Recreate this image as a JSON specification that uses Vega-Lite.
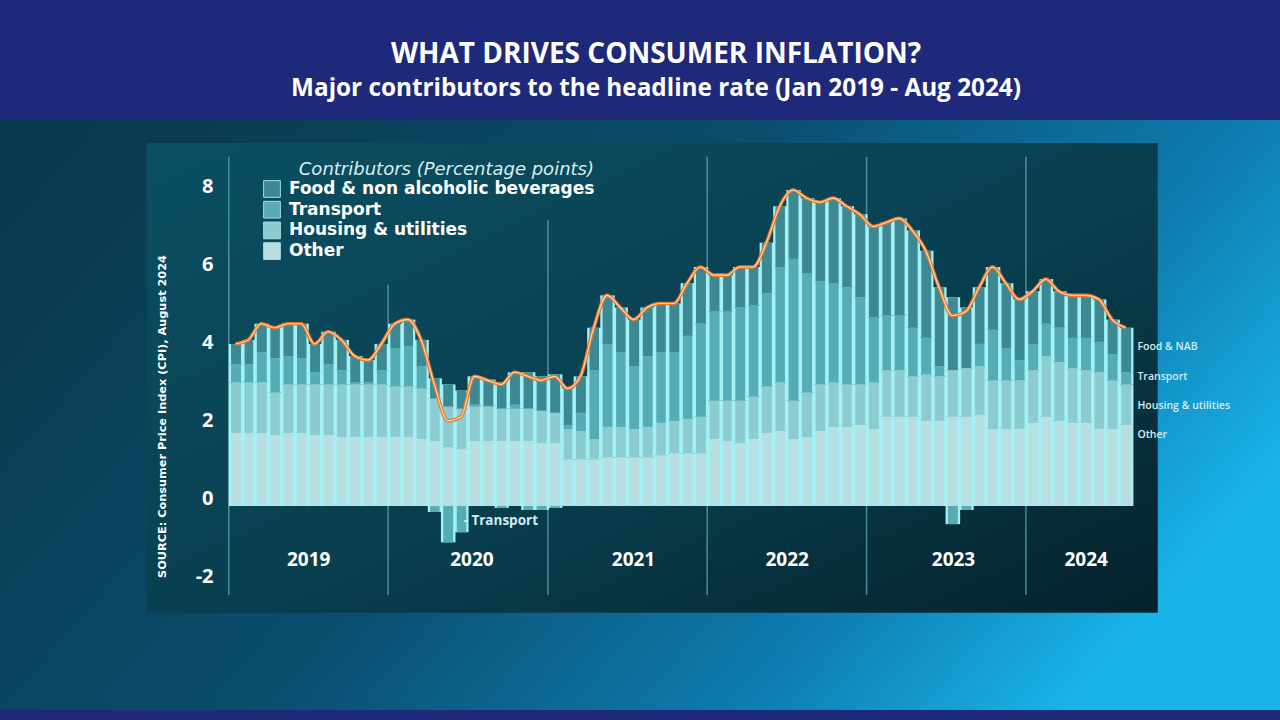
{
  "$schema": "https://vega.github.io/schema/vega-lite/v6.json",
  "width": 1280,
  "height": 590,
  "autosize": {"type": "none"},
  "padding": {"left": 0, "top": 120, "right": 0, "bottom": 10},
  "background": "#1f2979",
  "config": {
    "font": "Open Sans",
    "view": {
      "stroke": null,
      "fill": {"gradient": "linear", "x1": 0, "y1": 0.2, "x2": 1, "y2": 0.6,
        "stops": [{"offset": 0, "color": "#0a3a4e"}, {"offset": 0.45, "color": "#0b4d6d"}, {"offset": 0.78, "color": "#0e7db0"}, {"offset": 1, "color": "#19b5ea"}]}
    }
  },
  "title": {
    "text": "WHAT DRIVES CONSUMER INFLATION?",
    "subtitle": "Major contributors to the headline rate (Jan 2019 - Aug 2024)",
    "anchor": "middle",
    "dx": 16,
    "offset": 19,
    "font": "Open Sans",
    "fontSize": 28,
    "fontWeight": "bold",
    "color": "#ffffff",
    "subtitleFont": "Open Sans",
    "subtitleFontSize": 24.3,
    "subtitleFontWeight": "bold",
    "subtitleColor": "#ffffff",
    "subtitlePadding": 8
  },
  "data": {"values": [
    {"m": "2019-01-01", "food": 0.5, "transport": 0.45, "housing": 1.25, "other": 1.8, "cpi": 4.0},
    {"m": "2019-02-01", "food": 0.6, "transport": 0.45, "housing": 1.25, "other": 1.8, "cpi": 4.1},
    {"m": "2019-03-01", "food": 0.7, "transport": 0.75, "housing": 1.25, "other": 1.8, "cpi": 4.5},
    {"m": "2019-04-01", "food": 0.75, "transport": 0.85, "housing": 1.05, "other": 1.75, "cpi": 4.4},
    {"m": "2019-05-01", "food": 0.8, "transport": 0.7, "housing": 1.2, "other": 1.8, "cpi": 4.5},
    {"m": "2019-06-01", "food": 0.85, "transport": 0.65, "housing": 1.2, "other": 1.8, "cpi": 4.5},
    {"m": "2019-07-01", "food": 0.7, "transport": 0.3, "housing": 1.25, "other": 1.75, "cpi": 4.0},
    {"m": "2019-08-01", "food": 0.8, "transport": 0.5, "housing": 1.25, "other": 1.75, "cpi": 4.3},
    {"m": "2019-09-01", "food": 0.75, "transport": 0.35, "housing": 1.3, "other": 1.7, "cpi": 4.1},
    {"m": "2019-10-01", "food": 0.65, "transport": 0.05, "housing": 1.3, "other": 1.7, "cpi": 3.7},
    {"m": "2019-11-01", "food": 0.55, "transport": 0.05, "housing": 1.3, "other": 1.7, "cpi": 3.6},
    {"m": "2019-12-01", "food": 0.65, "transport": 0.35, "housing": 1.3, "other": 1.7, "cpi": 4.0},
    {"m": "2020-01-01", "food": 0.6, "transport": 0.95, "housing": 1.25, "other": 1.7, "cpi": 4.5},
    {"m": "2020-02-01", "food": 0.65, "transport": 1.0, "housing": 1.25, "other": 1.7, "cpi": 4.6},
    {"m": "2020-03-01", "food": 0.65, "transport": 0.55, "housing": 1.25, "other": 1.65, "cpi": 4.1},
    {"m": "2020-04-01", "food": 0.5, "transport": -0.15, "housing": 1.05, "other": 1.6, "cpi": 3.0},
    {"m": "2020-05-01", "food": 0.55, "transport": -0.9, "housing": 1.0, "other": 1.45, "cpi": 2.1},
    {"m": "2020-06-01", "food": 0.45, "transport": -0.65, "housing": 1.0, "other": 1.4, "cpi": 2.2},
    {"m": "2020-07-01", "food": 0.7, "transport": 0.05, "housing": 0.85, "other": 1.6, "cpi": 3.2},
    {"m": "2020-08-01", "food": 0.65, "transport": 0.02, "housing": 0.85, "other": 1.6, "cpi": 3.1},
    {"m": "2020-09-01", "food": 0.65, "transport": -0.05, "housing": 0.8, "other": 1.6, "cpi": 3.0},
    {"m": "2020-10-01", "food": 0.8, "transport": 0.1, "housing": 0.8, "other": 1.6, "cpi": 3.3},
    {"m": "2020-11-01", "food": 0.9, "transport": -0.1, "housing": 0.8, "other": 1.6, "cpi": 3.2},
    {"m": "2020-12-01", "food": 0.85, "transport": -0.1, "housing": 0.8, "other": 1.55, "cpi": 3.1},
    {"m": "2021-01-01", "food": 0.95, "transport": -0.05, "housing": 0.75, "other": 1.55, "cpi": 3.2},
    {"m": "2021-02-01", "food": 0.9, "transport": 0.1, "housing": 0.75, "other": 1.15, "cpi": 2.9},
    {"m": "2021-03-01", "food": 0.9, "transport": 0.45, "housing": 0.7, "other": 1.15, "cpi": 3.2},
    {"m": "2021-04-01", "food": 1.05, "transport": 1.7, "housing": 0.5, "other": 1.15, "cpi": 4.4},
    {"m": "2021-05-01", "food": 1.2, "transport": 2.05, "housing": 0.75, "other": 1.2, "cpi": 5.2},
    {"m": "2021-06-01", "food": 1.1, "transport": 1.85, "housing": 0.75, "other": 1.2, "cpi": 4.9},
    {"m": "2021-07-01", "food": 1.15, "transport": 1.55, "housing": 0.7, "other": 1.2, "cpi": 4.6},
    {"m": "2021-08-01", "food": 1.2, "transport": 1.75, "housing": 0.75, "other": 1.2, "cpi": 4.9},
    {"m": "2021-09-01", "food": 1.2, "transport": 1.75, "housing": 0.8, "other": 1.25, "cpi": 5.0},
    {"m": "2021-10-01", "food": 1.2, "transport": 1.7, "housing": 0.8, "other": 1.3, "cpi": 5.0},
    {"m": "2021-11-01", "food": 1.3, "transport": 2.05, "housing": 0.85, "other": 1.3, "cpi": 5.5},
    {"m": "2021-12-01", "food": 1.4, "transport": 2.3, "housing": 0.9, "other": 1.3, "cpi": 5.9},
    {"m": "2022-01-01", "food": 0.9, "transport": 2.2, "housing": 0.95, "other": 1.65, "cpi": 5.7},
    {"m": "2022-02-01", "food": 0.9, "transport": 2.2, "housing": 1.0, "other": 1.6, "cpi": 5.7},
    {"m": "2022-03-01", "food": 1.0, "transport": 2.3, "housing": 1.05, "other": 1.55, "cpi": 5.9},
    {"m": "2022-04-01", "food": 0.95, "transport": 2.25, "housing": 1.05, "other": 1.65, "cpi": 5.9},
    {"m": "2022-05-01", "food": 1.25, "transport": 2.3, "housing": 1.15, "other": 1.8, "cpi": 6.5},
    {"m": "2022-06-01", "food": 1.5, "transport": 2.85, "housing": 1.2, "other": 1.85, "cpi": 7.4},
    {"m": "2022-07-01", "food": 1.7, "transport": 3.5, "housing": 0.95, "other": 1.65, "cpi": 7.8},
    {"m": "2022-08-01", "food": 1.85, "transport": 2.95, "housing": 1.1, "other": 1.7, "cpi": 7.6},
    {"m": "2022-09-01", "food": 1.95, "transport": 2.55, "housing": 1.15, "other": 1.85, "cpi": 7.5},
    {"m": "2022-10-01", "food": 2.1, "transport": 2.45, "housing": 1.1, "other": 1.95, "cpi": 7.6},
    {"m": "2022-11-01", "food": 2.0, "transport": 2.4, "housing": 1.05, "other": 1.95, "cpi": 7.4},
    {"m": "2022-12-01", "food": 2.05, "transport": 2.15, "housing": 1.0, "other": 2.0, "cpi": 7.2},
    {"m": "2023-01-01", "food": 2.25, "transport": 1.6, "housing": 1.15, "other": 1.9, "cpi": 6.9},
    {"m": "2023-02-01", "food": 2.3, "transport": 1.35, "housing": 1.15, "other": 2.2, "cpi": 7.0},
    {"m": "2023-03-01", "food": 2.4, "transport": 1.35, "housing": 1.15, "other": 2.2, "cpi": 7.1},
    {"m": "2023-04-01", "food": 2.4, "transport": 1.2, "housing": 1.0, "other": 2.2, "cpi": 6.8},
    {"m": "2023-05-01", "food": 2.15, "transport": 0.9, "housing": 1.15, "other": 2.1, "cpi": 6.3},
    {"m": "2023-06-01", "food": 1.95, "transport": 0.25, "housing": 1.1, "other": 2.1, "cpi": 5.4},
    {"m": "2023-07-01", "food": 1.8, "transport": -0.45, "housing": 1.15, "other": 2.2, "cpi": 4.7},
    {"m": "2023-08-01", "food": 1.5, "transport": -0.1, "housing": 1.2, "other": 2.2, "cpi": 4.8},
    {"m": "2023-09-01", "food": 1.4, "transport": 0.55, "housing": 1.2, "other": 2.25, "cpi": 5.4},
    {"m": "2023-10-01", "food": 1.55, "transport": 1.25, "housing": 1.2, "other": 1.9, "cpi": 5.9},
    {"m": "2023-11-01", "food": 1.6, "transport": 0.8, "housing": 1.2, "other": 1.9, "cpi": 5.5},
    {"m": "2023-12-01", "food": 1.5, "transport": 0.5, "housing": 1.2, "other": 1.9, "cpi": 5.1},
    {"m": "2024-01-01", "food": 1.3, "transport": 0.65, "housing": 1.3, "other": 2.05, "cpi": 5.3},
    {"m": "2024-02-01", "food": 1.1, "transport": 0.8, "housing": 1.5, "other": 2.2, "cpi": 5.6},
    {"m": "2024-03-01", "food": 0.9, "transport": 0.85, "housing": 1.45, "other": 2.1, "cpi": 5.3},
    {"m": "2024-04-01", "food": 1.05, "transport": 0.75, "housing": 1.35, "other": 2.05, "cpi": 5.2},
    {"m": "2024-05-01", "food": 1.05, "transport": 0.8, "housing": 1.3, "other": 2.05, "cpi": 5.2},
    {"m": "2024-06-01", "food": 1.05, "transport": 0.75, "housing": 1.4, "other": 1.9, "cpi": 5.1},
    {"m": "2024-07-01", "food": 0.85, "transport": 0.65, "housing": 1.2, "other": 1.9, "cpi": 4.6},
    {"m": "2024-08-01", "food": 1.1, "transport": 0.3, "housing": 1.0, "other": 2.0, "cpi": 4.4}
  ]},
  "layer": [
    {
      "data": {"values": [{}]},
      "mark": {"type": "rect",
        "fill": {"gradient": "linear", "x1": 0, "y1": 0, "x2": 1, "y2": 1,
          "stops": [{"offset": 0, "color": "#0b4f62"}, {"offset": 0.55, "color": "#093f4f"}, {"offset": 1, "color": "#05222c"}]}},
      "encoding": {
        "x": {"datum": {"year": 2018, "month": 6, "date": 27, "utc": true}, "type": "temporal",
          "scale": {"type": "utc", "domain": [{"year": 2017, "month": 7, "date": 26, "utc": true}, {"year": 2025, "month": 8, "date": 5, "utc": true}]},
          "axis": {"title": null, "orient": "bottom", "offset": -151, "zindex": 2, "domain": false, "ticks": false, "grid": false,
            "labelPadding": 0, "labelBaseline": "middle", "labelExpr": "utcFormat(datum.value, '%Y')",
            "labelFont": "Open Sans", "labelFontSize": 19, "labelFontWeight": "bold", "labelColor": "#ffffff",
            "values": [
              {"year": 2019, "month": 7, "date": 2, "utc": true},
              {"year": 2020, "month": 7, "date": 10, "utc": true},
              {"year": 2021, "month": 7, "date": 15, "utc": true},
              {"year": 2022, "month": 7, "date": 2, "utc": true},
              {"year": 2023, "month": 7, "date": 18, "utc": true},
              {"year": 2024, "month": 5, "date": 17, "utc": true}]}},
        "x2": {"datum": {"year": 2024, "month": 10, "date": 29, "utc": true}},
        "y": {"datum": -2.64, "type": "quantitative",
          "scale": {"domain": [-5.04, 9.53], "nice": false, "zero": false},
          "axis": {"title": "SOURCE: Consumer Price Index (CPI), August 2024", "orient": "left", "offset": -216, "zindex": 2,
            "domain": false, "ticks": false, "grid": false, "labelPadding": 3,
            "values": [-2, 0, 2, 4, 6, 8],
            "labelExpr": "datum.value < 0 ? '-' + abs(datum.value) : '' + datum.value",
            "labelOffset": {"condition": [
              {"test": "datum.value > 7", "value": 5},
              {"test": "datum.value > 5", "value": 2},
              {"test": "datum.value > 3", "value": -1},
              {"test": "datum.value > 1", "value": -4},
              {"test": "datum.value > -1", "value": -7}], "value": -10},
            "labelFont": "Open Sans", "labelFontSize": 20, "labelFontWeight": "bold", "labelColor": "#ffffff",
            "titleFont": "DejaVu Sans", "titleFontSize": 11.3, "titleFontWeight": "bold", "titleColor": "#ffffff",
            "titleAngle": -90, "titleX": -54, "titleY": 296, "titleAlign": "center", "titleBaseline": "middle"}},
        "y2": {"datum": 8.96}
      }
    },
    {
      "data": {"values": [{"d": "2019-01-01"}, {"d": "2022-01-01"}, {"d": "2023-01-01"}, {"d": "2024-01-01"}]},
      "mark": {"type": "rule", "color": "#5ea8b6", "strokeWidth": 1.5, "opacity": 0.75},
      "encoding": {
        "x": {"field": "d", "type": "temporal"},
        "y": {"datum": -2.2},
        "y2": {"datum": 8.62}
      }
    },
    {
      "data": {"values": [{"d": "2020-01-01"}]},
      "mark": {"type": "rule", "color": "#5ea8b6", "strokeWidth": 1.5, "opacity": 0.75},
      "encoding": {
        "x": {"field": "d", "type": "temporal"},
        "y": {"datum": -2.2},
        "y2": {"datum": 5.46}
      }
    },
    {
      "data": {"values": [{"d": "2021-01-01"}]},
      "mark": {"type": "rule", "color": "#5ea8b6", "strokeWidth": 1.5, "opacity": 0.75},
      "encoding": {
        "x": {"field": "d", "type": "temporal"},
        "y": {"datum": -2.2},
        "y2": {"datum": 7.06}
      }
    },
    {
      "transform": [
        {"fold": ["food", "transport", "housing", "other"], "as": ["cat", "val"]},
        {"lookup": "cat", "from": {"data": {"values": [{"cat": "other", "rank": 1}, {"cat": "housing", "rank": 2}, {"cat": "transport", "rank": 3}, {"cat": "food", "rank": 4}]}, "key": "cat", "fields": ["rank"]}}
      ],
      "layer": [
        {
          "mark": {"type": "bar", "fill": "#a3f1f5", "xOffset": 1, "x2Offset": -1},
          "encoding": {
            "x": {"field": "m", "timeUnit": "utcyearmonth", "type": "temporal"},
            "y": {"field": "val", "type": "quantitative", "stack": "zero"},
            "detail": {"field": "cat"},
            "order": {"field": "rank", "type": "quantitative"}
          }
        },
        {
          "mark": {"type": "bar", "xOffset": -1.3, "x2Offset": 1.3},
          "encoding": {
            "x": {"field": "m", "timeUnit": "utcyearmonth", "type": "temporal"},
            "y": {"field": "val", "type": "quantitative", "stack": "zero"},
            "order": {"field": "rank", "type": "quantitative"},
            "color": {"field": "cat", "type": "nominal",
              "scale": {"domain": ["food", "transport", "housing", "other"], "range": ["#3c8993", "#55acb4", "#8ccbd0", "#b7dfe2"]},
              "legend": {"orient": "none", "legendX": 263, "legendY": 41, "padding": 0,
                "title": "Contributors (Percentage points)", "titleAnchor": "end", "titleLimit": 500,
                "titleFont": "DejaVu Sans", "titleFontSize": 18, "titleFontStyle": "italic", "titleFontWeight": "normal", "titleColor": "#d9eef2", "titlePadding": 1,
                "labelFont": "DejaVu Sans", "labelFontSize": 17, "labelFontWeight": "bold", "labelColor": "#ffffff", "labelOffset": 8,
                "symbolType": "square", "symbolSize": 280, "symbolStrokeColor": "#a9dbe0", "symbolStrokeWidth": 1, "symbolOpacity": 1,
                "rowPadding": -1.3, "labelLimit": 500,
                "labelExpr": "datum.label == 'food' ? 'Food & non alcoholic beverages' : datum.label == 'transport' ? 'Transport' : datum.label == 'housing' ? 'Housing & utilities' : 'Other'"}}
          }
        }
      ]
    },
    {
      "mark": {"type": "line", "color": "#e9782c", "strokeWidth": 3.6, "interpolate": "monotone"},
      "encoding": {
        "x": {"field": "m", "timeUnit": "utcyearmonth", "type": "temporal", "bandPosition": 0.5},
        "y": {"field": "cpi", "type": "quantitative"}
      }
    },
    {
      "mark": {"type": "line", "color": "#ffd9b5", "strokeWidth": 1.1, "interpolate": "monotone"},
      "encoding": {
        "x": {"field": "m", "timeUnit": "utcyearmonth", "type": "temporal", "bandPosition": 0.5},
        "y": {"field": "cpi", "type": "quantitative"}
      }
    },
    {
      "data": {"values": [{"lab": "Food & NAB", "v": 3.93}, {"lab": "Transport", "v": 3.19}, {"lab": "Housing & utilities", "v": 2.47}, {"lab": "Other", "v": 1.75}]},
      "mark": {"type": "text", "align": "left", "baseline": "middle", "dx": 5, "fontSize": 10.5, "fontWeight": 600, "color": "#d5ecf0"},
      "encoding": {
        "x": {"datum": {"year": 2024, "month": 9, "date": 1, "utc": true}, "type": "temporal"},
        "y": {"field": "v", "type": "quantitative"},
        "text": {"field": "lab"}
      }
    },
    {
      "data": {"values": [{"lab": "- Transport", "v": -0.37}]},
      "mark": {"type": "text", "align": "left", "baseline": "middle", "dx": -4, "fontSize": 13.5, "fontWeight": "bold", "color": "#d5ecf0"},
      "encoding": {
        "x": {"datum": {"year": 2020, "month": 7, "date": 1, "utc": true}, "type": "temporal"},
        "y": {"field": "v", "type": "quantitative"},
        "text": {"field": "lab"}
      }
    }
  ]
}
